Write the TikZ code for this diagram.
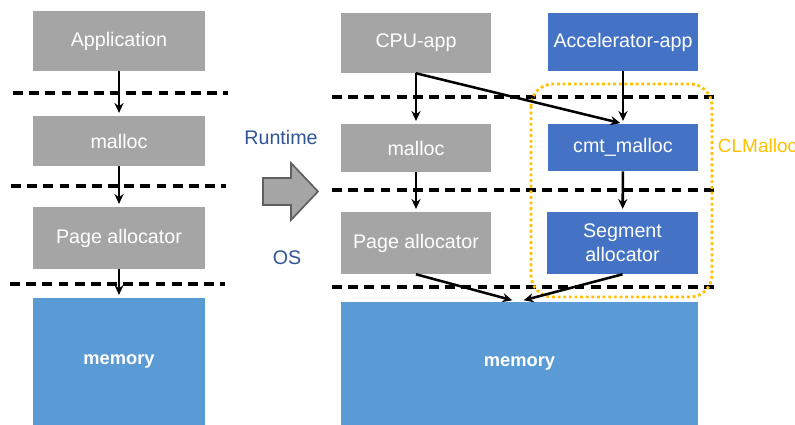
\documentclass[tikz,border=0pt]{standalone}
\usepackage{fontspec}
\setmainfont{Liberation Sans}
\usetikzlibrary{arrows.meta}

\definecolor{boxgray}{HTML}{A5A5A5}
\definecolor{accblue}{HTML}{4472C4}
\definecolor{memblue}{HTML}{5B9BD5}
\definecolor{labelblue}{HTML}{2F5597}
\definecolor{clmorange}{HTML}{FFC000}

\tikzset{
    graybox/.style={fill=boxgray, text=white, inner sep=0pt, align=center},
    bluebox/.style={fill=accblue, text=white, inner sep=0pt, align=center},
    membox/.style={fill=memblue, text=white, inner sep=0pt, font=\fontsize{13}{16}\selectfont\bfseries},
    layerline/.style={dashed, dash pattern=on 7pt off 4.5pt, line width=2.4pt},
    flow/.style={-{Stealth[length=7pt,width=6.5pt]}, line width=1.8pt, shorten >=2pt}
}

\begin{document}
\begin{tikzpicture}[x=0.025cm, y=-0.025cm, font=\fontsize{14}{17}\selectfont]
    \useasboundingbox (0,0) rectangle (795,425);

    % Define the left stack
    \node[graybox, minimum width=4.3cm, minimum height=1.5cm] (app) at (119,41) {Application};
    \node[graybox, minimum width=4.3cm, minimum height=1.25cm] (lmalloc) at (119,141) {malloc};
    \node[graybox, minimum width=4.3cm, minimum height=1.55cm] (lpage) at (119,238) {Page allocator};
    \node[membox, minimum width=4.3cm, minimum height=3.175cm] (lmem) at (119,361.5) {memory};

    % Layer borders of the left stack
    \draw[layerline] (13,93) -- (228,93);
    \draw[layerline] (11,186) -- (226,186);
    \draw[layerline] (10,284) -- (225,284);

    % Draw the left arrows
    \draw[flow] (app) -- (lmalloc);
    \draw[flow] (lmalloc) -- (lpage);
    \draw[flow] (lpage) -- (lmem);

    % Big arrow with the layer names
    \draw[fill=boxgray, draw=gray!75!black, line width=1.2pt, line join=miter]
        (263,178) -- (291,178) -- (291,163) -- (318,191.5) -- (291,220) -- (291,205) -- (263,205) -- cycle;
    \node[text=labelblue] (runtime) at (281,137) {Runtime};
    \node[text=labelblue] (os) at (287,258) {OS};

    % Define the right stack
    \node[graybox, minimum width=3.75cm, minimum height=1.5cm] (cpu) at (416,43) {CPU-app};
    \node[bluebox, minimum width=3.75cm, minimum height=1.45cm] (accel) at (623,42) {Accelerator-app};
    \node[graybox, minimum width=3.75cm, minimum height=1.2cm] (rmalloc) at (416,148) {malloc};
    \node[bluebox, minimum width=3.75cm, minimum height=1.175cm] (cmt) at (623,147.5) {cmt\_malloc};
    \node[graybox, minimum width=3.75cm, minimum height=1.55cm] (rpage) at (416,243) {Page allocator};
    \node[bluebox, minimum width=3.775cm, minimum height=1.55cm] (seg) at (622.5,243) {Segment\\allocator};
    \node[membox, minimum width=8.925cm, minimum height=3.075cm] (rmem) at (519.5,363.5) {memory};

    % Layer borders of the right stack
    \draw[layerline] (332,97) -- (717,97);
    \draw[layerline] (332,190) -- (717,190);
    \draw[layerline] (332,287) -- (717,287);

    % CLMalloc region
    \draw[clmorange, dotted, line width=2pt, rounded corners=0.55cm] (531,84) rectangle (712,297);
    \node[text=clmorange, anchor=west, font=\fontsize{13.5}{16}\selectfont] (clm) at (713,146) {CLMalloc};

    % Draw the right arrows
    \coordinate (memL) at (515,301);
    \coordinate (memR) at (521,301);
    \draw[flow] (cpu) -- (rmalloc);
    \draw[flow] (cpu.south) -- (cmt.north);
    \draw[flow] (accel) -- (cmt);
    \draw[flow] (rmalloc) -- (rpage);
    \draw[flow] (cmt) -- (seg);
    \draw[flow] (rpage.south) -- (memL);
    \draw[flow] (seg.south) -- (memR);

\end{tikzpicture}
\end{document}
